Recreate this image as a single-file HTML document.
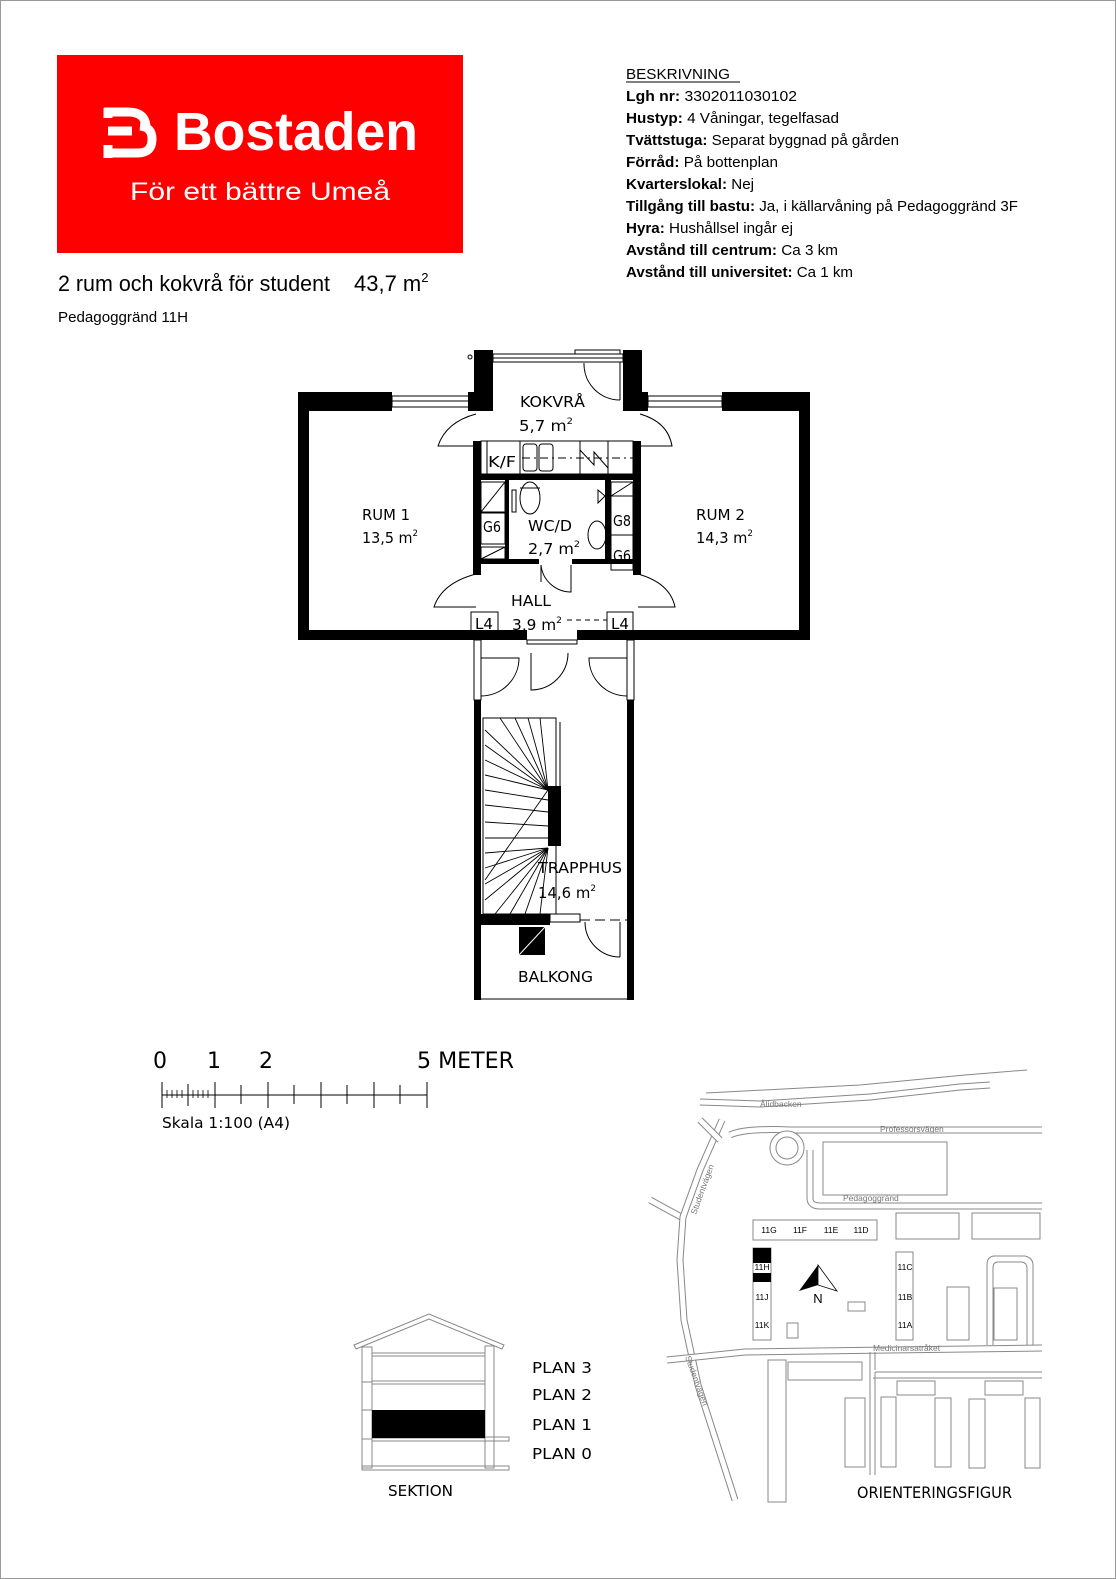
<!DOCTYPE html>
<html><head><meta charset="utf-8"><style>
html,body{margin:0;padding:0;background:#fff}
svg{display:block}
.t{font-family:"DejaVu Sans","Liberation Sans",sans-serif;fill:#000}
.a{font-family:"Liberation Sans",sans-serif;fill:#000}
.m{font-family:"Liberation Sans",sans-serif;fill:#777;font-size:8.5px}
.ml{font-family:"Liberation Sans",sans-serif;fill:#000;font-size:8.5px}
.rd{fill:none;stroke:#888;stroke-width:7}
.rw{fill:none;stroke:#fff;stroke-width:5}
.b{fill:none;stroke:#888;stroke-width:1}
</style></head><body>
<svg width="1116" height="1579" viewBox="0 0 1116 1579" xmlns="http://www.w3.org/2000/svg">
<rect x="0.5" y="0.5" width="1115" height="1578" fill="#fff" stroke="#999"/>
<!-- logo -->
<rect x="57" y="55" width="406" height="198" fill="#fe0000"/>
<g fill="none" stroke="#fff" stroke-width="9">
<path d="M104 112 H128 Q146 112 146 128"/>
<path d="M108 131 H132"/>
<path d="M104 153 H138 Q152 153 152 139 Q152 127 140 126"/>
<path d="M108 108 V118 M108 145 V158"/>
</g>
<text x="174" y="150" class="a" style="font-weight:bold;fill:#fff" font-size="54" textLength="244" lengthAdjust="spacingAndGlyphs">Bostaden</text>
<text x="130" y="200" class="a" style="fill:#fff" font-size="25" textLength="260" lengthAdjust="spacingAndGlyphs">För ett bättre Umeå</text>
<text x="58" y="291" class="a" font-size="22" textLength="272" lengthAdjust="spacingAndGlyphs">2 rum och kokvrå  för student</text>
<text x="354" y="291" class="a" font-size="22">43,7 m<tspan font-size="13" dy="-9">2</tspan></text>
<text x="58" y="322" class="a" font-size="15" textLength="130" lengthAdjust="spacingAndGlyphs">Pedagoggränd 11H</text>
<!-- description -->
<g class="a" font-size="14.5">
<text x="626" y="79" textLength="104" lengthAdjust="spacingAndGlyphs">BESKRIVNING</text>
<line x1="626" y1="82" x2="740" y2="82" stroke="#000" stroke-width="1"/>
<text x="626" y="101" textLength="171" lengthAdjust="spacingAndGlyphs"><tspan font-weight="bold">Lgh nr:</tspan>  3302011030102</text>
<text x="626" y="123" textLength="213" lengthAdjust="spacingAndGlyphs"><tspan font-weight="bold">Hustyp:</tspan> 4 Våningar, tegelfasad</text>
<text x="626" y="145" textLength="273" lengthAdjust="spacingAndGlyphs"><tspan font-weight="bold">Tvättstuga:</tspan> Separat byggnad på gården</text>
<text x="626" y="167" textLength="152" lengthAdjust="spacingAndGlyphs"><tspan font-weight="bold">Förråd:</tspan> På bottenplan</text>
<text x="626" y="189" textLength="128" lengthAdjust="spacingAndGlyphs"><tspan font-weight="bold">Kvarterslokal:</tspan> Nej</text>
<text x="626" y="211" textLength="392" lengthAdjust="spacingAndGlyphs"><tspan font-weight="bold">Tillgång till bastu:</tspan> Ja, i källarvåning på Pedagoggränd 3F</text>
<text x="626" y="233" textLength="167" lengthAdjust="spacingAndGlyphs"><tspan font-weight="bold">Hyra:</tspan> Hushållsel ingår ej</text>
<text x="626" y="255" textLength="212" lengthAdjust="spacingAndGlyphs"><tspan font-weight="bold">Avstånd till centrum:</tspan> Ca 3 km</text>
<text x="626" y="277" textLength="227" lengthAdjust="spacingAndGlyphs"><tspan font-weight="bold">Avstånd till universitet:</tspan> Ca 1 km</text>
</g>
<!-- floor plan walls -->
<g fill="#000">
<rect x="298" y="392" width="11" height="248"/>
<rect x="298" y="392" width="94" height="19"/>
<rect x="722" y="392" width="88" height="19"/>
<rect x="799" y="392" width="11" height="248"/>
<rect x="298" y="630" width="229" height="10"/>
<rect x="577" y="630" width="233" height="10"/>
<rect x="474" y="350" width="19" height="61"/>
<rect x="468" y="392" width="25" height="19"/>
<rect x="623" y="350" width="19" height="61"/>
<rect x="623" y="392" width="25" height="19"/>
<rect x="473" y="441" width="8" height="134"/>
<rect x="633" y="441" width="8" height="134"/>
<rect x="473" y="474" width="168" height="6"/>
<rect x="505" y="480" width="4" height="84"/>
<rect x="605" y="480" width="6" height="84"/>
<rect x="473" y="559" width="66" height="5"/>
<rect x="572" y="559" width="69" height="5"/>
<rect x="474" y="700" width="7" height="300"/>
<rect x="627" y="700" width="7" height="300"/>
<rect x="474" y="914" width="76" height="11"/>
<rect x="548" y="786" width="13" height="60"/>
<rect x="519" y="927" width="26" height="28"/>
</g>
<g fill="none" stroke="#000" stroke-width="1">
<rect x="392" y="396" width="78" height="11"/><line x1="392" y1="401" x2="470" y2="401"/>
<rect x="648" y="396" width="74" height="11"/><line x1="648" y1="401" x2="722" y2="401"/>
<rect x="493" y="354" width="130" height="8"/><line x1="493" y1="358" x2="623" y2="358"/>
<rect x="575" y="350" width="45" height="4"/>
<circle cx="470" cy="357" r="2"/>
<path d="M620 362 V400 M584 363 A36 36 0 0 0 620 400"/>
<path d="M476 414 Q446 422 438 446 L476 446"/>
<path d="M640 414 Q668 422 672 446 L637 446"/>
<path d="M476 574 Q442 583 434 607 L476 607"/>
<path d="M638 574 Q670 583 675 607 L638 607"/>
<rect x="481" y="441" width="152" height="33"/>
<line x1="487" y1="441" x2="487" y2="474"/>
<line x1="520" y1="441" x2="520" y2="474"/>
<rect x="523" y="444" width="14" height="27" rx="3"/>
<rect x="539" y="444" width="14" height="27" rx="3"/>
<line x1="580" y1="441" x2="580" y2="474"/>
<line x1="608" y1="441" x2="608" y2="474"/>
<path d="M580 450 L594 465 V452 L608 468"/>
<line x1="522" y1="458" x2="633" y2="458" stroke-dasharray="8 4 2 4"/>
<rect x="481" y="482" width="24" height="30"/><line x1="481" y1="512" x2="505" y2="482"/>
<rect x="481" y="513" width="24" height="31"/>
<rect x="481" y="547" width="24" height="12"/><line x1="481" y1="559" x2="505" y2="547"/>
<rect x="611" y="482" width="22" height="14"/><line x1="611" y1="496" x2="633" y2="482"/>
<rect x="611" y="496" width="22" height="39"/>
<rect x="611" y="535" width="22" height="35"/>
<ellipse cx="530" cy="498" rx="10" ry="16"/>
<line x1="520" y1="488" x2="540" y2="488"/>
<rect x="512" y="490" width="4" height="22"/>
<ellipse cx="597" cy="535" rx="9" ry="14"/>
<path d="M598 490 L605 496 L598 503 Z"/>
<path d="M541 565 V582 M541 565 A30 30 0 0 0 571 592 V565"/>
<rect x="471" y="612" width="27" height="20"/>
<rect x="607" y="612" width="26" height="20"/>
<path d="M567 620 H607" stroke-dasharray="5 4"/>
<rect x="474" y="640" width="7" height="60"/>
<rect x="627" y="640" width="7" height="60"/>
<rect x="527" y="640" width="50" height="4"/>
<path d="M481 658 H519 A38 38 0 0 1 481 696"/>
<path d="M531 653 V690 A37 37 0 0 0 568 653"/>
<path d="M627 658 H589 A38 38 0 0 0 627 696"/>
<rect x="483" y="718" width="73" height="196"/>
<line x1="556" y1="718" x2="556" y2="786"/>
<line x1="560" y1="722" x2="560" y2="786"/>
<g stroke-width="0.9">
<line x1="548" y1="790" x2="500" y2="718"/><line x1="548" y1="790" x2="515" y2="718"/>
<line x1="548" y1="790" x2="528" y2="718"/><line x1="548" y1="790" x2="540" y2="718"/>
<line x1="548" y1="790" x2="485" y2="730"/><line x1="548" y1="790" x2="485" y2="745"/>
<line x1="548" y1="790" x2="485" y2="760"/><line x1="548" y1="790" x2="485" y2="775"/>
<line x1="548" y1="800" x2="485" y2="790"/><line x1="548" y1="812" x2="485" y2="805"/>
<line x1="548" y1="826" x2="485" y2="822"/><line x1="548" y1="838" x2="485" y2="838"/>
<line x1="548" y1="848" x2="485" y2="853"/><line x1="548" y1="848" x2="485" y2="868"/>
<line x1="548" y1="848" x2="485" y2="884"/><line x1="548" y1="848" x2="485" y2="900"/>
<line x1="548" y1="848" x2="495" y2="914"/><line x1="548" y1="848" x2="510" y2="914"/>
<line x1="548" y1="848" x2="525" y2="914"/><line x1="548" y1="848" x2="540" y2="914"/>
<line x1="548" y1="790" x2="485" y2="880"/>
</g>
<rect x="550" y="914" width="30" height="8"/>
<line x1="580" y1="920" x2="627" y2="920" stroke-dasharray="10 5"/>
<path d="M620 922 V957 M585 922 A35 35 0 0 0 620 957"/>
<line x1="474" y1="999" x2="634" y2="999"/>
</g>
<line x1="519" y1="955" x2="545" y2="927" stroke="#fff"/>
<!-- plan labels -->
<g class="t" font-size="15" lengthAdjust="spacingAndGlyphs">
<text x="520" y="407" textLength="65" lengthAdjust="spacingAndGlyphs">KOKVRÅ</text>
<text x="519" y="431" textLength="54" lengthAdjust="spacingAndGlyphs">5,7 m<tspan font-size="9" dy="-7">2</tspan></text>
<text x="362" y="520" textLength="48" lengthAdjust="spacingAndGlyphs">RUM 1</text>
<text x="362" y="543" textLength="56" lengthAdjust="spacingAndGlyphs">13,5 m<tspan font-size="9" dy="-7">2</tspan></text>
<text x="696" y="520" textLength="49" lengthAdjust="spacingAndGlyphs">RUM 2</text>
<text x="696" y="543" textLength="57" lengthAdjust="spacingAndGlyphs">14,3 m<tspan font-size="9" dy="-7">2</tspan></text>
<text x="528" y="531" textLength="44" lengthAdjust="spacingAndGlyphs">WC/D</text>
<text x="528" y="554" textLength="52" lengthAdjust="spacingAndGlyphs">2,7 m<tspan font-size="9" dy="-7">2</tspan></text>
<text x="511" y="606" textLength="40" lengthAdjust="spacingAndGlyphs">HALL</text>
<text x="512" y="630" textLength="50" lengthAdjust="spacingAndGlyphs">3,9 m<tspan font-size="9" dy="-7">2</tspan></text>
<text x="488" y="467" textLength="28" lengthAdjust="spacingAndGlyphs">K/F</text>
<text x="483" y="532" textLength="18" lengthAdjust="spacingAndGlyphs">G6</text>
<text x="613" y="526" textLength="18" lengthAdjust="spacingAndGlyphs">G8</text>
<text x="613" y="561" textLength="18" lengthAdjust="spacingAndGlyphs">G6</text>
<text x="475" y="629" textLength="18" lengthAdjust="spacingAndGlyphs">L4</text>
<text x="611" y="629" textLength="18" lengthAdjust="spacingAndGlyphs">L4</text>
<text x="538" y="873" textLength="84" lengthAdjust="spacingAndGlyphs">TRAPPHUS</text>
<text x="538" y="898" textLength="58" lengthAdjust="spacingAndGlyphs">14,6 m<tspan font-size="9" dy="-7">2</tspan></text>
<text x="518" y="982" textLength="75" lengthAdjust="spacingAndGlyphs">BALKONG</text>
</g>
<!-- scale -->
<g class="t" font-size="22">
<text x="160" y="1068" text-anchor="middle">0</text>
<text x="214" y="1068" text-anchor="middle">1</text>
<text x="266" y="1068" text-anchor="middle">2</text>
<text x="417" y="1068" textLength="97" lengthAdjust="spacingAndGlyphs">5 METER</text>
</g>
<g stroke="#000" stroke-width="1">
<line x1="162" y1="1095" x2="427" y2="1095"/>
<line x1="162" y1="1082" x2="162" y2="1108"/><line x1="215" y1="1082" x2="215" y2="1108"/>
<line x1="268" y1="1082" x2="268" y2="1108"/><line x1="321" y1="1082" x2="321" y2="1108"/>
<line x1="374" y1="1082" x2="374" y2="1108"/><line x1="427" y1="1082" x2="427" y2="1108"/>
<line x1="241" y1="1085" x2="241" y2="1104"/><line x1="294" y1="1085" x2="294" y2="1104"/>
<line x1="347" y1="1085" x2="347" y2="1104"/><line x1="400" y1="1085" x2="400" y2="1104"/>
<line x1="188" y1="1084" x2="188" y2="1106"/>
<path d="M167 1090V1098M172 1090V1098M177 1090V1098M182 1090V1098M193 1090V1098M198 1090V1098M203 1090V1098M208 1090V1098" stroke-width="0.8"/>
</g>
<text x="162" y="1128" class="t" font-size="15" textLength="128" lengthAdjust="spacingAndGlyphs">Skala 1:100 (A4)</text>
<!-- section -->
<g fill="none" stroke="#888" stroke-width="1">
<path d="M354 1345 L429 1314 L504 1345 L502 1349 L429 1319 L356 1349 Z"/>
<rect x="362" y="1347" width="10" height="121"/>
<rect x="485" y="1346" width="9" height="122"/>
<rect x="372" y="1353" width="113" height="3"/>
<rect x="372" y="1381" width="113" height="3"/>
<rect x="372" y="1438" width="113" height="3"/>
<rect x="485" y="1437" width="24" height="4"/>
<rect x="362" y="1466" width="147" height="4"/>
<line x1="362" y1="1382" x2="372" y2="1382"/><line x1="362" y1="1410" x2="372" y2="1410"/>
<line x1="362" y1="1439" x2="372" y2="1439"/>
</g>
<rect x="372" y="1410" width="113" height="28" fill="#000"/>
<g class="t" font-size="15">
<text x="532" y="1373" textLength="60" lengthAdjust="spacingAndGlyphs">PLAN 3</text>
<text x="532" y="1400" textLength="60" lengthAdjust="spacingAndGlyphs">PLAN 2</text>
<text x="532" y="1430" textLength="60" lengthAdjust="spacingAndGlyphs">PLAN 1</text>
<text x="532" y="1459" textLength="60" lengthAdjust="spacingAndGlyphs">PLAN 0</text>
<text x="388" y="1496" textLength="65" lengthAdjust="spacingAndGlyphs">SEKTION</text>
<text x="857" y="1498" font-size="16" textLength="155" lengthAdjust="spacingAndGlyphs">ORIENTERINGSFIGUR</text>
</g>
<!-- map roads -->
<g>
<path class="rd" d="M700 1102 L760 1104 L870 1097 L960 1087 L990 1085"/>
<path class="rw" d="M700 1102 L760 1104 L870 1097 L960 1087 L990 1085"/>
<path class="b" d="M706 1093 L860 1085 L965 1075 L1027 1070"/>
<path class="rd" d="M650 1200 L683 1218"/><path class="rw" d="M650 1200 L683 1218"/>
<path class="rd" d="M722 1120 L700 1170 L683 1217 L680 1260 L684 1320 L698 1385 L735 1500"/>
<path class="rw" d="M722 1120 L700 1170 L683 1217 L680 1260 L684 1320 L698 1385 L735 1500"/>
<path class="rd" d="M700 1120 L720 1140"/><path class="rw" d="M700 1120 L720 1140"/>
<path class="rd" d="M730 1135 Q745 1128 790 1130 L1042 1130"/>
<path class="rw" d="M730 1135 Q745 1128 790 1130 L1042 1130"/>
<circle class="rd" cx="787" cy="1148" r="14"/><circle class="rw" cx="787" cy="1148" r="14"/>
<path class="rd" d="M810 1150 L810 1198 Q810 1206 820 1206 L1042 1206"/>
<path class="rw" d="M810 1150 L810 1198 Q810 1206 820 1206 L1042 1206"/>
<path class="rd" d="M667 1360 L745 1352 L1042 1348"/>
<path class="rw" d="M667 1360 L745 1352 L1042 1348"/>
<path class="b" d="M870 1352 V1475 M875 1372 V1475 M875 1372 H1042 M873 1378 H1042 M875 1352 V1370"/>
<path class="b" d="M987 1345 V1265 Q987 1256 995 1256 L1025 1256 Q1033 1258 1033 1265 V1345 M993 1345 V1268 Q993 1262 998 1262 L1022 1262 Q1027 1263 1027 1268 V1345"/>
</g>
<g class="b">
<rect x="823" y="1142" width="124" height="53"/>
<rect x="753" y="1220" width="124" height="20"/>
<rect x="896" y="1213" width="63" height="26"/>
<rect x="972" y="1213" width="68" height="26"/>
<rect x="753" y="1248" width="18" height="92"/>
<rect x="896" y="1252" width="17" height="88"/>
<rect x="848" y="1302" width="17" height="9"/>
<rect x="787" y="1323" width="11" height="15"/>
<rect x="947" y="1287" width="22" height="53"/>
<rect x="994" y="1288" width="23" height="52"/>
<rect x="768" y="1360" width="18" height="142"/>
<rect x="788" y="1362" width="74" height="18"/>
<rect x="845" y="1398" width="20" height="69"/>
<rect x="881" y="1397" width="15" height="70"/>
<rect x="897" y="1381" width="38" height="14"/>
<rect x="935" y="1398" width="16" height="69"/>
<rect x="969" y="1399" width="16" height="69"/>
<rect x="985" y="1381" width="38" height="14"/>
<rect x="1025" y="1398" width="15" height="70"/>
</g>
<rect x="753" y="1248" width="18" height="15" fill="#000"/>
<rect x="753" y="1273" width="18" height="9" fill="#000"/>
<g class="ml" text-anchor="middle">
<text x="769" y="1233">11G</text><text x="800" y="1233">11F</text><text x="831" y="1233">11E</text><text x="861" y="1233">11D</text>
<text x="762" y="1270">11H</text><text x="762" y="1300">11J</text><text x="762" y="1328">11K</text>
<text x="905" y="1270">11C</text><text x="905" y="1300">11B</text><text x="905" y="1328">11A</text>
</g>
<path d="M818 1265 L799 1291 L818 1285 Z" fill="#000"/>
<path d="M818 1265 L837 1291 L818 1285 Z" fill="#fff" stroke="#000" stroke-width="0.8"/>
<text x="818" y="1303" class="a" font-size="13" text-anchor="middle">N</text>
<g class="m">
<text x="760" y="1107">Ålidbacken</text>
<text x="880" y="1132">Professorsvägen</text>
<text x="843" y="1201">Pedagoggränd</text>
<text x="873" y="1351">Medicinarsatråket</text>
<text x="0" y="0" transform="translate(696,1215) rotate(-70)">Studentvägen</text>
<text x="0" y="0" transform="translate(685,1357) rotate(70)">Studentvägen</text>
</g>
</svg>
</body></html>
